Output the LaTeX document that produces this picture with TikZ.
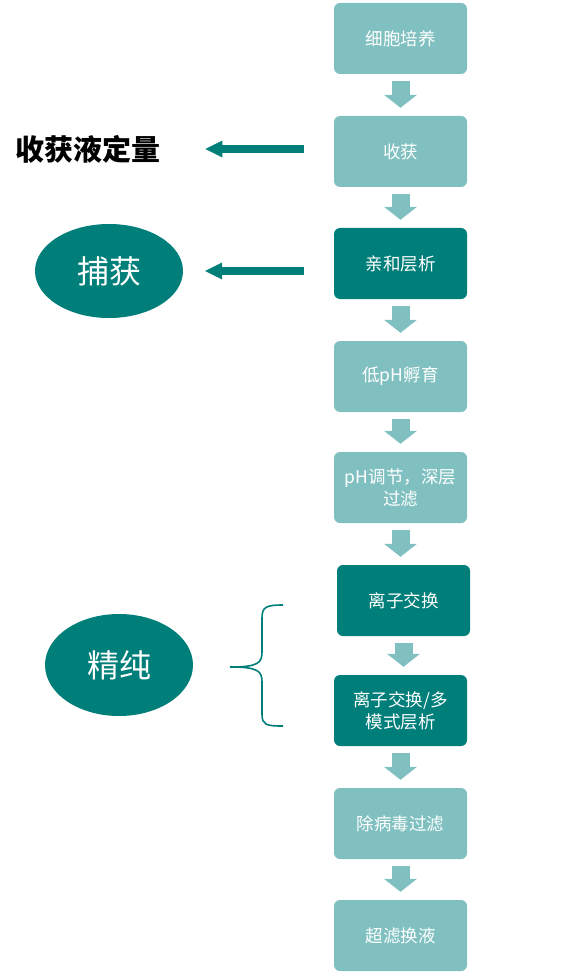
\documentclass[tikz,border=0pt]{standalone}
\usepackage{fontspec}
\setmainfont{Noto Sans CJK SC}
\usetikzlibrary{arrows.meta,shapes.geometric}
\definecolor{tealdk}{RGB}{0,126,122}
\definecolor{teallt}{RGB}{128,192,192}

\begin{document}
\begin{tikzpicture}[x=1pt,y=-1pt,
  stepbox/.style={rectangle,rounded corners=6pt,minimum width=133pt,minimum height=71pt,
    text width=131pt,align=center,inner sep=0pt,text=white,font=\fontsize{17.5}{22}\selectfont},
  lightbox/.style={stepbox,fill=teallt},
  darkbox/.style={stepbox,fill=tealdk},
  flow/.style={teallt,line width=18pt,-{Triangle[length=13pt,width=33pt,line width=0pt]},
    shorten <=7pt,shorten >=8pt},
  side/.style={tealdk,line width=8pt,-{Triangle[length=17pt,width=17pt,line width=0pt]}},
  blob/.style={ellipse,fill=tealdk,text=white,inner sep=0pt,font=\fontsize{32}{36}\selectfont}]
\useasboundingbox (0,0) rectangle (564,976);
% ---- process steps, top to bottom ----
\foreach \i/\x/\y/\st/\t in {1/400.5/38.5/lightbox/细胞培养,
    2/400.5/151.5/lightbox/收获,
    3/400.5/263.5/darkbox/亲和层析,
    4/400.5/376.5/lightbox/低pH孵育,
    5/400.5/487.5/lightbox/{pH调节，深层\\过滤},
    6/403.5/600.5/darkbox/离子交换,
    7/400.5/710.5/darkbox/{离子交换/多\\模式层析},
    8/400.5/823.5/lightbox/除病毒过滤,
    9/400.5/935.5/lightbox/超滤换液}{
  \node[\st] (b\i) at (\x,\y) {\t};}
\foreach \a in {1,...,8}{
  \pgfmathtruncatemacro{\b}{\a+1}
  \draw[flow] (b\a.south) -- (b\a.south |- b\b.north);}
% ---- side labels ----
\node[anchor=west,inner sep=0pt,font=\fontsize{29}{32}\selectfont\bfseries] (qnt) at (15,149) {收获液定量};
\node[blob,minimum width=148pt,minimum height=94pt] (cap) at (109,271) {捕获};
\node[blob,minimum width=148pt,minimum height=102pt] (pur) at (119,665) {精纯};
\draw[side,shorten <=30pt,shorten >=45pt] (qnt.east -| b2.west) -- (qnt.east);
\draw[side,shorten <=30pt,shorten >=22pt] (cap.east -| b3.west) -- (cap.east);
% brace for the polishing steps
\draw[tealdk,line width=1.6pt] (283,605) .. controls (266,605) and (262,607) .. (262,618)
  -- (262,652) .. controls (262,663) and (258,667) .. (230,667)
  .. controls (258,667) and (262,671) .. (262,682) -- (262,714)
  .. controls (262,725) and (266,726) .. (283,726);
\end{tikzpicture}
\end{document}
